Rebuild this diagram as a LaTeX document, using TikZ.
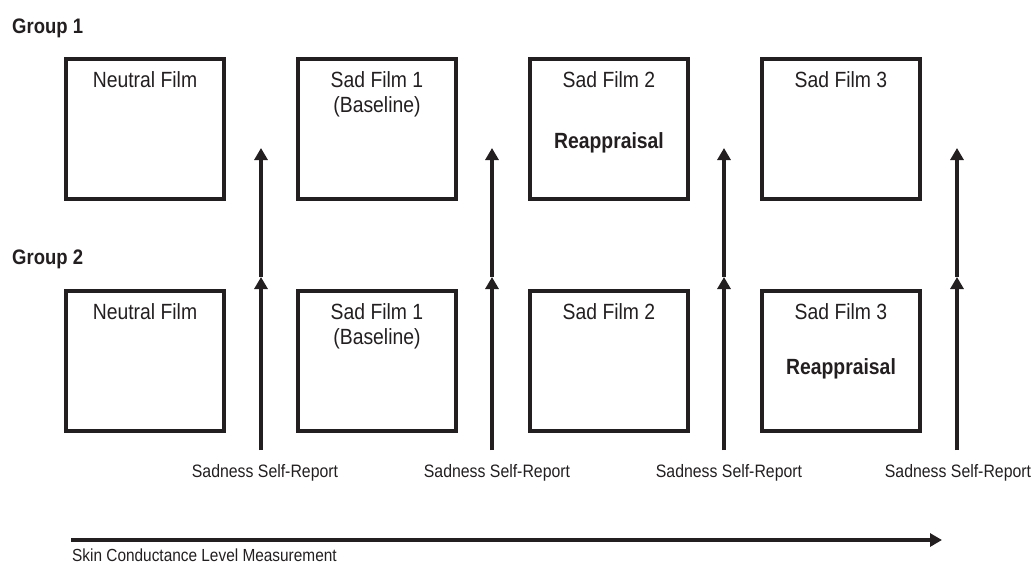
\documentclass[tikz,border=0pt]{standalone}
\usepackage{fontspec}
\setmainfont{Liberation Sans}[FakeStretch=0.88]
\usetikzlibrary{positioning, arrows.meta, calc}
\definecolor{inkcol}{RGB}{35,31,32}

\begin{document}
\begin{tikzpicture}[
			x=1pt,
			y=-1pt,
			node distance=232pt,
			on grid,
			film/.style={
				draw=inkcol,
				rectangle,
				line width=4pt,
				minimum width=158pt,
				minimum height=140pt
			},
			title/.style={
				inner sep=0pt,
				anchor=base,
				text=inkcol,
				font=\fontsize{22}{24}\selectfont
			},
			strategy/.style={
				title,
				font=\bfseries\fontsize{22}{24}\selectfont
			},
			group/.style={
				inner sep=0pt,
				anchor=base west,
				text=inkcol,
				font=\bfseries\fontsize{21}{24}\selectfont
			},
			note/.style={
				inner sep=0pt,
				text=inkcol,
				font=\fontsize{18}{20}\selectfont
			},
			report/.style={
				draw=inkcol,
				line width=3.5pt,
				-{Triangle[length=12pt,width=13pt]}
			},
			timeline/.style={
				draw=inkcol,
				line width=4pt,
				-{Triangle[length=12pt,width=13pt]}
			}
			]
			\useasboundingbox (0,0) rectangle (1033,565);

			% Groups
			\node[group] (grp1) at (12,33) {Group 1};
			\node[group] (grp2) at (12,264) {Group 2};

			% Films, group 1
			\node[film] (n1) at (145,129) {};
			\node[film] (s1) [right=of n1] {};
			\node[film] (s2) [right=of s1] {};
			\node[film] (s3) [right=of s2] {};

			% Films, group 2
			\node[film] (n2) [below=of n1] {};
			\node[film] (t1) [right=of n2] {};
			\node[film] (t2) [right=of t1] {};
			\node[film] (t3) [right=of t2] {};

			% Film titles
			\node[title] (n1t) at ([yshift=-30pt]n1.north) {Neutral Film};
			\node[title] (s1t) at ([yshift=-30pt]s1.north) {Sad Film 1};
			\node[title] (s1b) at ([yshift=-55pt]s1.north) {(Baseline)};
			\node[title] (s2t) at ([yshift=-30pt]s2.north) {Sad Film 2};
			\node[strategy] (s2r) at ([yshift=-91pt]s2.north) {Reappraisal};
			\node[title] (s3t) at ([yshift=-30pt]s3.north) {Sad Film 3};

			\node[title] (n2t) at ([yshift=-30pt]n2.north) {Neutral Film};
			\node[title] (t1t) at ([yshift=-30pt]t1.north) {Sad Film 1};
			\node[title] (t1b) at ([yshift=-55pt]t1.north) {(Baseline)};
			\node[title] (t2t) at ([yshift=-30pt]t2.north) {Sad Film 2};
			\node[title] (t3t) at ([yshift=-30pt]t3.north) {Sad Film 3};
			\node[strategy] (t3r) at ([yshift=-85pt]t3.north) {Reappraisal};

			% Self-reports
			\coordinate (r1) at (261,450);
			\coordinate (m1) at (261,277);
			\coordinate (u1) at (261,148);
			\coordinate (r2) at (492,450);
			\coordinate (m2) at (492,277);
			\coordinate (u2) at (492,148);
			\coordinate (r3) at (724,450);
			\coordinate (m3) at (724,277);
			\coordinate (u3) at (724,148);
			\coordinate (r4) at (957,450);
			\coordinate (m4) at (957,277);
			\coordinate (u4) at (957,148);

			\draw[report] (r1) -- (m1);
			\draw[report] (m1) -- (u1);
			\draw[report] (r2) -- (m2);
			\draw[report] (m2) -- (u2);
			\draw[report] (r3) -- (m3);
			\draw[report] (m3) -- (u3);
			\draw[report] (r4) -- (m4);
			\draw[report] (m4) -- (u4);

			\node[note, anchor=base] (sr1) at (265,477) {Sadness Self-Report};
			\node[note, anchor=base] (sr2) at (497,477) {Sadness Self-Report};
			\node[note, anchor=base] (sr3) at (729,477) {Sadness Self-Report};
			\node[note, anchor=base] (sr4) at (958,477) {Sadness Self-Report};

			% Skin conductance
			\coordinate (scl0) at (71,540);
			\coordinate (scl1) at (942,540);
			\draw[timeline] (scl0) -- (scl1);
			\node[note, anchor=base west, font=\fontsize{17.5}{20}\selectfont] (scl) at (72,561) {Skin Conductance Level Measurement};
		\end{tikzpicture}
\end{document}
